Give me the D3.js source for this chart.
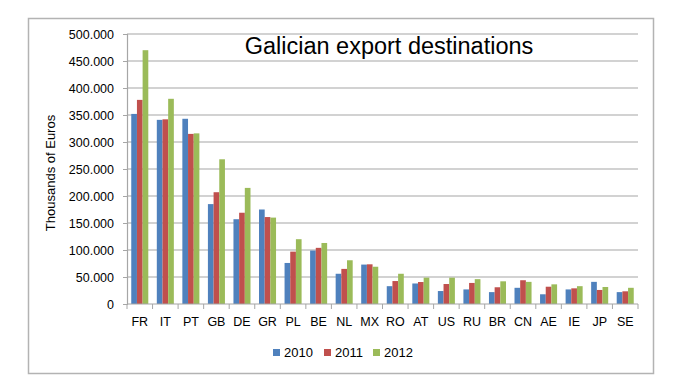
<!DOCTYPE html>
<html>
<head>
<meta charset="utf-8">
<script src="https://cdn.jsdelivr.net/npm/d3@7"></script>
<style>
  body { margin: 0; background: #fff; }
  text { font-family: "Liberation Sans", Arial, sans-serif; fill: #000; }
</style>
</head>
<body>
<div id="chart"></div>
<script>
var countries = ['FR','IT','PT','GB','DE','GR','PL','BE','NL','MX','RO','AT','US','RU','BR','CN','AE','IE','JP','SE'];
var years = ['2010','2011','2012'];
var v2010 = [352,341,343,185,157,175,76,99,56,73,33,38,24,27,22,30,18,27,41,22];
var v2011 = [378,342,315,207,169,161,97,104,65,73.5,42.5,40.7,37,39,31,44,32,29,26,23.5];
var v2012 = [470,380,316,268,215,160,120,113,81,69,56,48.8,48.8,46,42,41,36.4,33,31.5,30];
var yTicks = [0,50,100,150,200,250,300,350,400,450,500];
var colors = ['#4F81BD','#C0504D','#9BBB59'];

var width = 690, height = 392;
var plotLeft = 127, plotRight = 638, plotTop = 34, plotBottom = 304;

var svg = d3.select('#chart').append('svg')
  .attr('width', width)
  .attr('height', height);

// outer frame
svg.append('rect')
  .attr('x', 28.5).attr('y', 18.5)
  .attr('width', 625).attr('height', 355)
  .attr('fill', 'white')
  .attr('stroke', '#b3b3b3')
  .attr('stroke-width', 1.5);

var x0 = d3.scaleBand().domain(countries).range([plotLeft, plotRight]).padding(0);
var x1 = d3.scaleBand().domain(years).range([0, x0.bandwidth()])
  .paddingInner(0).paddingOuter(0.75);
var y = d3.scaleLinear().domain([0, 500]).range([plotBottom, plotTop]);

var fmt = function(d){
  return d === 0 ? '0' : d3.format(',')(d * 1000).replace(/,/g, '.');
};

// gridlines
svg.append('g').selectAll('line').data(yTicks.slice(1))
  .enter().append('line')
  .attr('x1', plotLeft).attr('x2', plotRight)
  .attr('y1', function(d){ return y(d); })
  .attr('y2', function(d){ return y(d); })
  .attr('stroke', '#a6a6a6')
  .attr('stroke-width', 1.2);

// y axis
var yAxis = svg.append('g')
  .attr('transform', 'translate(' + plotLeft + ',0)')
  .call(d3.axisLeft(y).tickValues(yTicks).tickFormat(fmt).tickSize(4).tickPadding(9));
yAxis.select('.domain').attr('stroke', '#a6a6a6').attr('stroke-width', 1.2);
yAxis.selectAll('.tick line').attr('stroke', '#a6a6a6');
yAxis.selectAll('.tick text').style('font-size', '12.5px')
  .style('font-family', '"Liberation Sans", Arial, sans-serif');

// bars
var series = [v2010, v2011, v2012];
var groups = svg.append('g').selectAll('g').data(countries)
  .enter().append('g')
  .attr('transform', function(d){ return 'translate(' + x0(d) + ',0)'; });

groups.selectAll('rect')
  .data(function(d, i){ return years.map(function(yr, j){ return {year: yr, value: series[j][i], j: j}; }); })
  .enter().append('rect')
  .attr('x', function(d){ return x1(d.year); })
  .attr('y', function(d){ return y(d.value); })
  .attr('width', x1.bandwidth())
  .attr('height', function(d){ return plotBottom - y(d.value); })
  .attr('fill', function(d){ return colors[d.j]; });

// x axis
var xAxis = svg.append('g')
  .attr('transform', 'translate(0,' + plotBottom + ')');
xAxis.append('line')
  .attr('x1', plotLeft).attr('x2', plotRight)
  .attr('stroke', '#a6a6a6').attr('stroke-width', 1.2);
xAxis.selectAll('line.tk').data(countries.concat(['end']))
  .enter().append('line')
  .attr('class', 'tk')
  .attr('x1', function(d){ return d === 'end' ? plotRight : x0(d); })
  .attr('x2', function(d){ return d === 'end' ? plotRight : x0(d); })
  .attr('y1', 0).attr('y2', 5)
  .attr('stroke', '#a6a6a6');
xAxis.selectAll('text').data(countries)
  .enter().append('text')
  .attr('x', function(d){ return x0(d) + x0.bandwidth() / 2; })
  .attr('y', 22)
  .attr('text-anchor', 'middle')
  .style('font-size', '12.5px')
  .text(function(d){ return d; });

// title
svg.append('text')
  .attr('x', 389).attr('y', 54)
  .attr('text-anchor', 'middle')
  .style('font-size', '23.5px')
  .text('Galician export destinations');

// y axis title
svg.append('text')
  .attr('transform', 'translate(55,173) rotate(-90)')
  .attr('text-anchor', 'middle')
  .style('font-size', '13px')
  .text('Thousands of Euros');

// legend
var legendX = [273, 324, 373];
var legend = svg.append('g').selectAll('g').data(years)
  .enter().append('g')
  .attr('transform', function(d, i){ return 'translate(' + legendX[i] + ',349)'; });
legend.append('rect')
  .attr('width', 7).attr('height', 7)
  .attr('fill', function(d, i){ return colors[i]; });
legend.append('text')
  .attr('x', 11).attr('y', 8)
  .style('font-size', '13px')
  .text(function(d){ return d; });
</script>
</body>
</html>
